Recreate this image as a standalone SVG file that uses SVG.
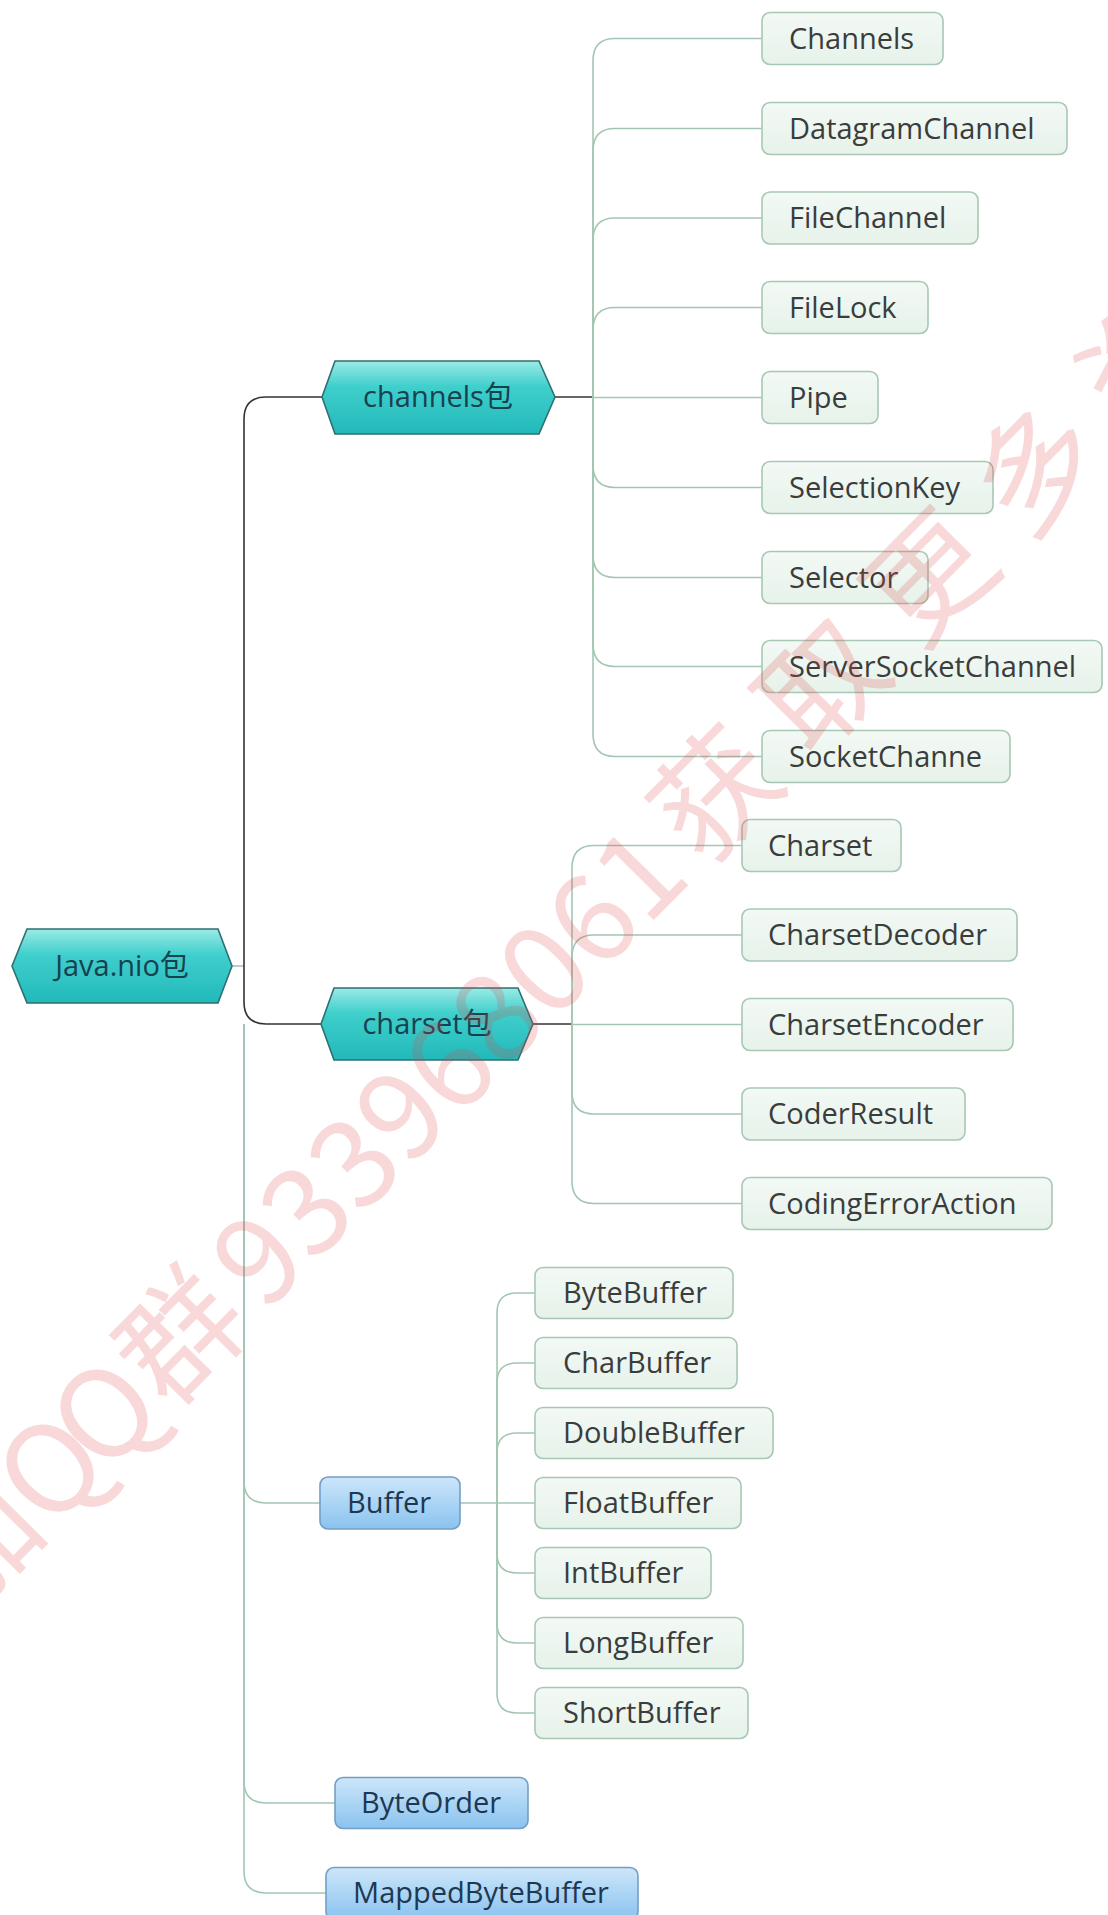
<svg xmlns="http://www.w3.org/2000/svg" width="1108" height="1915" viewBox="0 0 1108 1915">
<defs>
<linearGradient id="gHex" x1="0" y1="0" x2="0" y2="1">
<stop offset="0" stop-color="#9beae6"/>
<stop offset="0.35" stop-color="#3fcfcc"/>
<stop offset="1" stop-color="#22b9ba"/>
</linearGradient>
<linearGradient id="gLeaf" x1="0" y1="0" x2="0" y2="1">
<stop offset="0" stop-color="#f3f9f5"/>
<stop offset="1" stop-color="#e6f2ea"/>
</linearGradient>
<linearGradient id="gBlue" x1="0" y1="0" x2="0" y2="1">
<stop offset="0" stop-color="#cde6fa"/>
<stop offset="1" stop-color="#8ac3ef"/>
</linearGradient>
<style>
.hex{fill:url(#gHex);stroke:#2f6f72;stroke-width:1.6}
.leaf{fill:url(#gLeaf);stroke:#a8c8b5;stroke-width:1.6}
.blue{fill:url(#gBlue);stroke:#739fc6;stroke-width:1.6}
.t{font-family:"Open Sans","Noto Sans CJK SC",sans-serif;font-size:29px;fill:#3a3d3c}
.th{font-family:"Open Sans","Noto Sans CJK SC",sans-serif;font-size:29px;fill:#18414f;text-anchor:middle}
.tb{font-family:"Open Sans","Noto Sans CJK SC",sans-serif;font-size:29px;fill:#1d3852;text-anchor:middle}
.dk{fill:none;stroke:#333333;stroke-width:1.6}
.lt{fill:none;stroke:#a3c6b2;stroke-width:1.6}
.wm{font-family:"Noto Sans CJK SC",sans-serif;font-size:122px;fill:#e04848;fill-opacity:0.21;text-anchor:middle;dominant-baseline:central}
</style>
</defs>
<rect width="1108" height="1915" fill="#ffffff"/>

<g id="connectors">
<path class="lt" d="M232 966 H244"/>
<path class="dk" d="M244 966 V419 Q244 397 266 397 H322"/>
<path class="dk" d="M244 966 V1002 Q244 1024 266 1024 H321"/>
<path class="lt" d="M244 1024 V1481 Q244 1503 266 1503 H320"/>
<path class="lt" d="M244 1024 V1781 Q244 1803 266 1803 H335"/>
<path class="lt" d="M244 1024 V1871 Q244 1893 266 1893 H326"/>
<path class="dk" d="M555 397 H593"/>
<path class="lt" d="M593 397 V61 Q593 38.5 615 38.5 H762"/>
<path class="lt" d="M593 397 V151 Q593 128.5 615 128.5 H762"/>
<path class="lt" d="M593 397 V240 Q593 218 615 218 H762"/>
<path class="lt" d="M593 397 V330 Q593 307.5 615 307.5 H762"/>
<path class="lt" d="M593 397.5 H762"/>
<path class="lt" d="M593 397 V465 Q593 487.5 615 487.5 H762"/>
<path class="lt" d="M593 397 V555 Q593 577.5 615 577.5 H762"/>
<path class="lt" d="M593 397 V644 Q593 666.5 615 666.5 H762"/>
<path class="lt" d="M593 397 V734 Q593 756.5 615 756.5 H762"/>
<path class="dk" d="M533 1024 H572"/>
<path class="lt" d="M572 1024 V868 Q572 845.5 594 845.5 H742"/>
<path class="lt" d="M572 1024 V957 Q572 935 594 935 H742"/>
<path class="lt" d="M572 1024.5 H742"/>
<path class="lt" d="M572 1024 V1092 Q572 1114 594 1114 H742"/>
<path class="lt" d="M572 1024 V1181 Q572 1203.5 594 1203.5 H742"/>
<path class="lt" d="M460 1503 H497"/>
<path class="lt" d="M497 1503 V1313 Q497 1293 517 1293 H535"/>
<path class="lt" d="M497 1503 V1383 Q497 1363 517 1363 H535"/>
<path class="lt" d="M497 1503 V1453 Q497 1433 517 1433 H535"/>
<path class="lt" d="M497 1503 H535"/>
<path class="lt" d="M497 1503 V1553 Q497 1573 517 1573 H535"/>
<path class="lt" d="M497 1503 V1623 Q497 1643 517 1643 H535"/>
<path class="lt" d="M497 1503 V1693 Q497 1713 517 1713 H535"/>
</g>

<g id="root">
<polygon class="hex" points="12,966 27,929 218,929 232,966 218,1003 27,1003"/>
<text class="th" x="122" y="976">Java.nio包</text>
</g>
<g id="channels-pkg">
<polygon class="hex" points="322,397 335,361 539,361 555,397 539,434 335,434"/>
<text class="th" x="438" y="407">channels包</text>
</g>
<g id="charset-pkg">
<polygon class="hex" points="321,1024 334,988 518,988 533,1024 518,1060 334,1060"/>
<text class="th" x="427" y="1034">charset包</text>
</g>

<g id="n-Channels"><rect class="leaf" x="762" y="12.5" width="181" height="52" rx="8"/><text class="t" x="789" y="48.5">Channels</text></g>
<g id="n-DatagramChannel"><rect class="leaf" x="762" y="102.5" width="305" height="52" rx="8"/><text class="t" x="789" y="138.5">DatagramChannel</text></g>
<g id="n-FileChannel"><rect class="leaf" x="762" y="192" width="216" height="52" rx="8"/><text class="t" x="789" y="228">FileChannel</text></g>
<g id="n-FileLock"><rect class="leaf" x="762" y="281.5" width="166" height="52" rx="8"/><text class="t" x="789" y="317.5">FileLock</text></g>
<g id="n-Pipe"><rect class="leaf" x="762" y="371.5" width="116" height="52" rx="8"/><text class="t" x="789" y="407.5">Pipe</text></g>
<g id="n-SelectionKey"><rect class="leaf" x="762" y="461.5" width="231" height="52" rx="8"/><text class="t" x="789" y="497.5">SelectionKey</text></g>
<g id="n-Selector"><rect class="leaf" x="762" y="551.5" width="166" height="52" rx="8"/><text class="t" x="789" y="587.5">Selector</text></g>
<g id="n-ServerSocketChannel"><rect class="leaf" x="762" y="640.5" width="340" height="52" rx="8"/><text class="t" x="789" y="676.5">ServerSocketChannel</text></g>
<g id="n-SocketChanne"><rect class="leaf" x="762" y="730.5" width="248" height="52" rx="8"/><text class="t" x="789" y="766.5">SocketChanne</text></g>

<g id="n-Charset"><rect class="leaf" x="742" y="819.5" width="159" height="52" rx="8"/><text class="t" x="768" y="855.5">Charset</text></g>
<g id="n-CharsetDecoder"><rect class="leaf" x="742" y="909" width="275" height="52" rx="8"/><text class="t" x="768" y="945">CharsetDecoder</text></g>
<g id="n-CharsetEncoder"><rect class="leaf" x="742" y="998.5" width="271" height="52" rx="8"/><text class="t" x="768" y="1034.5">CharsetEncoder</text></g>
<g id="n-CoderResult"><rect class="leaf" x="742" y="1088" width="223" height="52" rx="8"/><text class="t" x="768" y="1124">CoderResult</text></g>
<g id="n-CodingErrorAction"><rect class="leaf" x="742" y="1177.5" width="310" height="52" rx="8"/><text class="t" x="768" y="1213.5">CodingErrorAction</text></g>

<g id="n-Buffer"><rect class="blue" x="320" y="1477" width="140" height="52" rx="8"/><text class="tb" x="389" y="1513">Buffer</text></g>
<g id="n-ByteBuffer"><rect class="leaf" x="535" y="1267.5" width="198" height="51" rx="8"/><text class="t" x="563" y="1303">ByteBuffer</text></g>
<g id="n-CharBuffer"><rect class="leaf" x="535" y="1337.5" width="202" height="51" rx="8"/><text class="t" x="563" y="1373">CharBuffer</text></g>
<g id="n-DoubleBuffer"><rect class="leaf" x="535" y="1407.5" width="238" height="51" rx="8"/><text class="t" x="563" y="1443">DoubleBuffer</text></g>
<g id="n-FloatBuffer"><rect class="leaf" x="535" y="1477.5" width="206" height="51" rx="8"/><text class="t" x="563" y="1513">FloatBuffer</text></g>
<g id="n-IntBuffer"><rect class="leaf" x="535" y="1547.5" width="176" height="51" rx="8"/><text class="t" x="563" y="1583">IntBuffer</text></g>
<g id="n-LongBuffer"><rect class="leaf" x="535" y="1617.5" width="208" height="51" rx="8"/><text class="t" x="563" y="1653">LongBuffer</text></g>
<g id="n-ShortBuffer"><rect class="leaf" x="535" y="1687.5" width="213" height="51" rx="8"/><text class="t" x="563" y="1723">ShortBuffer</text></g>

<g id="n-ByteOrder"><rect class="blue" x="335" y="1777.5" width="193" height="51" rx="8"/><text class="tb" x="431" y="1813">ByteOrder</text></g>
<g id="n-MappedByteBuffer"><rect class="blue" x="326" y="1867.5" width="312" height="52" rx="8"/><text class="tb" x="481" y="1903">MappedByteBuffer</text></g>

<g id="watermark">
<text class="wm" transform="translate(-30 1537) rotate(-45.4)">加</text>
<text class="wm" transform="translate(44 1462) rotate(-45.4)">Q</text>
<text class="wm" transform="translate(98 1407) rotate(-45.4)">Q</text>
<text class="wm" transform="translate(174 1330) rotate(-45.4)">群</text>
<text class="wm" transform="translate(251 1252) rotate(-45.4)">9</text>
<text class="wm" transform="translate(299 1203) rotate(-45.4)">3</text>
<text class="wm" transform="translate(347 1155) rotate(-45.4)">3</text>
<text class="wm" transform="translate(394 1107) rotate(-45.4)">9</text>
<text class="wm" transform="translate(442 1059) rotate(-45.4)">6</text>
<text class="wm" transform="translate(489 1010) rotate(-45.4)">8</text>
<text class="wm" transform="translate(537 962) rotate(-45.4)">0</text>
<text class="wm" transform="translate(585 913) rotate(-45.4)">6</text>
<text class="wm" transform="translate(632 866) rotate(-45.4)">1</text>
<text class="wm" transform="translate(709 787) rotate(-45.4)">获</text>
<text class="wm" transform="translate(816 679) rotate(-45.4)">取</text>
<text class="wm" transform="translate(923 571) rotate(-45.4)">更</text>
<text class="wm" transform="translate(1030 462) rotate(-45.4)">多</text>
<text class="wm" transform="translate(1137 354) rotate(-45.4)">资</text>
</g>
</svg>
